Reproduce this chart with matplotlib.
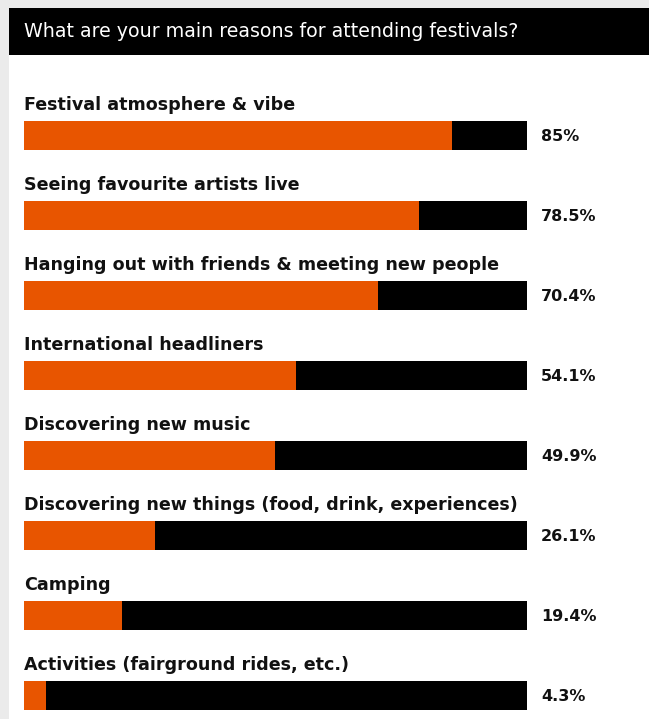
import matplotlib.pyplot as plt
from matplotlib.patches import Rectangle

plt.rcParams['font.family'] = ['DejaVu Sans']

title = 'What are your main reasons for attending festivals?'
reasons = [
    'Festival atmosphere & vibe',
    'Seeing favourite artists live',
    'Hanging out with friends & meeting new people',
    'International headliners',
    'Discovering new music',
    'Discovering new things (food, drink, experiences)',
    'Camping',
    'Activities (fairground rides, etc.)',
]
shares = [85, 78.5, 70.4, 54.1, 49.9, 26.1, 19.4, 4.3]
share_labels = ['85%', '78.5%', '70.4%', '54.1%', '49.9%', '26.1%', '19.4%', '4.3%']

orange = '#e85500'
W, H = 649, 719

fig = plt.figure(figsize=(W / 100, H / 100), dpi=100)
fig.patch.set_facecolor('#ebebeb')

def px(x, y, w, h):
    # pixel box (top-left origin) -> figure fraction
    return [x / W, 1 - (y + h) / H, w / W, h / H]

# white card and black header
fig.patches.append(Rectangle((9 / W, 0), 1, 1 - 8 / H, transform=fig.transFigure,
                             facecolor='white', edgecolor='none', zorder=-2))
fig.patches.append(Rectangle((9 / W, 1 - 55 / H), 1, 47 / H, transform=fig.transFigure,
                             facecolor='black', edgecolor='none', zorder=-1))
fig.text(24 / W, 1 - 37 / H, title, color='white', fontsize=13.65,
         va='baseline', ha='left')

# bars: 80 px per row, axes from y=95.5 to 715
ax = fig.add_axes(px(24, 95.5, 503, 619.5))
ax.set_zorder(2)
ax.set_xlim(0, 100)
ax.set_ylim(7.244, -0.5)
ax.axis('off')

pos = list(range(len(reasons)))
bh = 29 / 80
ax.barh(pos, [100] * len(pos), height=bh, color='black', zorder=1)
ax.barh(pos, shares, height=bh, color=orange, zorder=2)

for i, (name, lab) in enumerate(zip(reasons, share_labels)):
    ax.text(0, i - 0.319, name, fontsize=12.6, fontweight='bold', ha='left',
            va='baseline', color='#111111', clip_on=False)
    ax.text(102.8, i + 0.01, lab, fontsize=11.5, fontweight='bold', ha='left',
            va='center', color='#111111', clip_on=False)

fig.savefig('out.png', dpi=100, facecolor=fig.get_facecolor())
